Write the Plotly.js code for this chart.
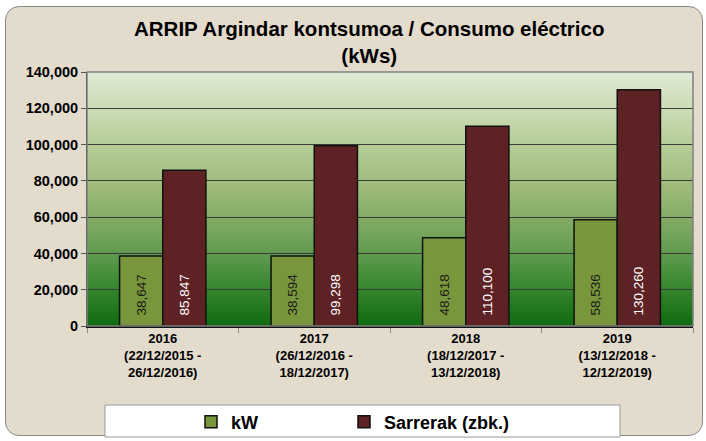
<!DOCTYPE html>
<html><head><meta charset="utf-8">
<script src="https://cdn.plot.ly/plotly-3.0.1.min.js"></script>
<style>
html,body{margin:0;padding:0;background:#fff;width:706px;height:441px;overflow:hidden;}
#frame{position:absolute;left:5px;top:6px;width:696px;height:428px;border:1.5px solid #8a8a8a;border-radius:14px;background:#e3dbcc;}
#chart{position:absolute;left:0;top:0;width:706px;height:441px;}
</style></head>
<body>
<div id="frame"></div>
<div id="chart"></div>
<script>
const categories = [
  "2016<br>(22/12/2015 -<br>26/12/2016)",
  "2017<br>(26/12/2016 -<br>18/12/2017)",
  "2018<br>(18/12/2017 -<br>13/12/2018)",
  "2019<br>(13/12/2018 -<br>12/12/2019)"
];
const kW = [38647, 38594, 48618, 58536];
const sarrerak = [85847, 99298, 110100, 130260];
const seriesNames = ["kW", "Sarrerak (zbk.)"];
const yTicks = [0, 20000, 40000, 60000, 80000, 100000, 120000, 140000];

const grad = 'data:image/svg+xml;utf8,' + encodeURIComponent(
 '<svg xmlns="http://www.w3.org/2000/svg" width="100" height="100" preserveAspectRatio="none">' +
 '<defs><linearGradient id="g" x1="0" y1="0" x2="0" y2="1">' +
 '<stop offset="0" stop-color="#e0ead5"/>' +
 '<stop offset="0.15" stop-color="#cadcb5"/>' +
 '<stop offset="0.3" stop-color="#b2cc94"/>' +
 '<stop offset="0.45" stop-color="#9fbb7c"/>' +
 '<stop offset="0.6" stop-color="#7fa862"/>' +
 '<stop offset="0.75" stop-color="#559647"/>' +
 '<stop offset="0.88" stop-color="#2f8128"/>' +
 '<stop offset="1" stop-color="#0f6a10"/>' +
 '</linearGradient></defs><rect width="100" height="100" fill="url(#g)"/></svg>');

const sans = "Liberation Sans, Arial, sans-serif";
const pad = '\u00a0\u00a0';
const traces = [
  {type:'bar', name:'<b>' + seriesNames[0] + '</b>', x:categories, y:kW, legend:'legend',
   marker:{color:'#78963b', line:{color:'#111', width:1.5}},
   texttemplate:pad + '%{y:,}', textposition:'inside', insidetextanchor:'start', textangle:-90,
   textfont:{family:sans, size:13.5, color:'#1a1a1a'}, hoverinfo:'y'},
  {type:'bar', name:'<b>' + seriesNames[1] + '</b>', x:categories, y:sarrerak, legend:'legend2',
   marker:{color:'#5e2225', line:{color:'#111', width:1.5}},
   texttemplate:pad + '%{y:,}', textposition:'inside', insidetextanchor:'start', textangle:-90,
   textfont:{family:sans, size:13.5, color:'#ffffff'}, hoverinfo:'y'}
];

const legendCommon = {orientation:'h', xanchor:'left', y:(326-422)/254, yanchor:'middle',
  bgcolor:'rgba(0,0,0,0)', borderwidth:0, itemclick:false, font:{size:18}};

const layout = {
  width:706, height:441,
  margin:{l:87, r:13, t:72, b:115, autoexpand:false},
  paper_bgcolor:'rgba(0,0,0,0)', plot_bgcolor:'rgba(0,0,0,0)',
  font:{family:sans, color:'#000'},
  title:{text:'<b>ARRIP Argindar kontsumoa / Consumo eléctrico</b><br><b>(kWs)</b>',
    font:{size:20.5, family:sans, color:'#000'},
    x:0.523, xanchor:'center', xref:'container', y:1 - 36/441, yanchor:'top', yref:'container'},
  barmode:'group', bargap:0.43, bargroupgap:0,
  xaxis:{type:'category', tickson:'boundaries', ticks:'outside', ticklen:5, tickcolor:'#888',
    showline:true, linecolor:'#111', linewidth:1.5, mirror:false, automargin:false,
    tickfont:{size:13, weight:'bold'}, showgrid:false},
  yaxis:{range:[0,140000], tickvals:yTicks, tickformat:',', ticks:'outside', ticklen:5, tickcolor:'#555',
    showline:true, linecolor:'#222', linewidth:1, gridcolor:'#3a3a3a', gridwidth:1, automargin:false,
    tickfont:{size:14.5, weight:'bold'}, zeroline:false},
  showlegend:true,
  legend:Object.assign({x:(191-87)/606}, legendCommon),
  legend2:Object.assign({x:(344-87)/606}, legendCommon),
  images:[{source:grad, xref:'paper', yref:'paper', x:0, y:1, sizex:1, sizey:1,
    sizing:'stretch', layer:'below', xanchor:'left', yanchor:'top'}],
  shapes:[
    {type:'rect', xref:'paper', yref:'paper', x0:(105-87)/606, x1:(620-87)/606, y0:(326-437)/254, y1:(326-405)/254,
     fillcolor:'#ffffff', line:{color:'#9a9a9a', width:1}, layer:'below'},
    {type:'rect', xref:'paper', yref:'paper', x0:0, x1:1, y0:0, y1:1,
     fillcolor:'rgba(0,0,0,0)', line:{color:'#808080', width:1.5}, layer:'above'}
  ]
};
Plotly.newPlot('chart', traces, layout, {displayModeBar:false, staticPlot:true});
</script>
</body></html>
